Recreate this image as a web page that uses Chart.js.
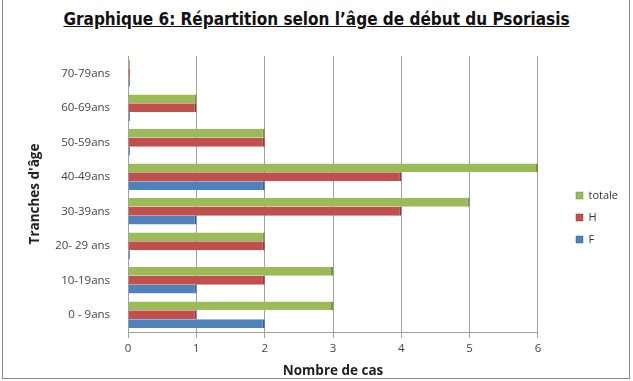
<!DOCTYPE html>
<html>
<head>
<meta charset="utf-8">
<script src="https://cdn.jsdelivr.net/npm/chart.js@4"></script>
<style>
  html, body { margin:0; padding:0; background:#fff; }
  #wrap { position:relative; width:633px; height:381px; overflow:hidden; }
  #frame { position:absolute; left:2px; top:-2px; width:628px; height:381px; border:1px solid #8a8a8a; box-sizing:border-box; }
  #title { position:absolute; left:0; top:9px; width:633px; text-align:center; font-family:"DejaVu Sans Condensed","DejaVu Sans",sans-serif; font-weight:bold; font-size:17px; color:#111; text-decoration:underline; }
  canvas { position:absolute; left:0; top:0; }
</style>
</head>
<body>
<div id="wrap">
  <div id="frame"></div>
  <div id="title">Graphique 6: Répartition selon l’âge de début du Psoriasis</div>
  <canvas id="c" width="633" height="381"></canvas>
</div>
<script>
const categories = ["70-79ans", "60-69ans", "50-59ans", "40-49ans", "30-39ans", "20- 29 ans", "10-19ans", "0 - 9ans"];
const totale = [0, 1, 2, 6, 5, 2, 3, 3];
const hommes = [0, 1, 2, 4, 4, 2, 2, 1];
const femmes = [0, 0, 0, 2, 1, 0, 1, 2];
const xTicks = [0, 1, 2, 3, 4, 5, 6];

const fam = "'Open Sans', 'Liberation Sans', sans-serif";
const tickFont = { family: fam, size: 11.5 };

// move the legend to the right edge area, as in the reference
const legendShift = {
  id: 'legendShift',
  afterLayout(chart) {
    const l = chart.legend;
    if (l) { l.left += 27; l.right += 27; }
  }
};

new Chart(document.getElementById('c'), {
  type: 'bar',
  data: {
    labels: categories,
    datasets: [
      { label: 'totale', data: totale, backgroundColor: '#9BBB59', borderColor: '#76923C', borderWidth: {top:0,bottom:0,left:0,right:2}, minBarLength: 2 },
      { label: 'H', data: hommes, backgroundColor: '#C0504D', borderColor: '#943634', borderWidth: {top:0,bottom:0,left:0,right:2}, minBarLength: 2 },
      { label: 'F', data: femmes, backgroundColor: '#4F81BD', borderColor: '#365F91', borderWidth: {top:0,bottom:0,left:0,right:2}, minBarLength: 2 }
    ]
  },
  plugins: [legendShift],
  options: {
    indexAxis: 'y',
    responsive: false,
    animation: false,
    devicePixelRatio: 1,
    datasets: { bar: { categoryPercentage: 0.77, barPercentage: 1.0 } },
    layout: { padding: { top: 56, left: 27, right: 32, bottom: 2 } },
    plugins: {
      title: { display: false },
      tooltip: { enabled: false },
      legend: {
        position: 'right',
        labels: {
          boxWidth: 7, boxHeight: 7, padding: 11,
          font: { family: fam, size: 11 },
          color: '#333'
        }
      }
    },
    scales: {
      x: {
        min: 0, max: 6,
        afterBuildTicks: (s) => { s.ticks = xTicks.map(v => ({ value: v })); },
        grid: { color: '#a0a0a0', drawTicks: true, tickLength: 6 },
        border: { color: '#a0a0a0' },
        ticks: { font: tickFont, color: '#444', padding: 4 },
        title: { display: true, text: 'Nombre de cas', font: { family: fam, size: 13.5, weight: 'bold' }, color: '#222', padding: { top: 3, bottom: 0 } }
      },
      y: {
        grid: { display: false },
        border: { color: '#a0a0a0' },
        ticks: { font: tickFont, color: '#444', padding: 10 },
        title: { display: true, text: "Tranches d'âge", font: { family: fam, size: 13.5, weight: 'bold' }, color: '#222', padding: { top: 0, bottom: 2 } }
      }
    }
  }
});
</script>
</body>
</html>
